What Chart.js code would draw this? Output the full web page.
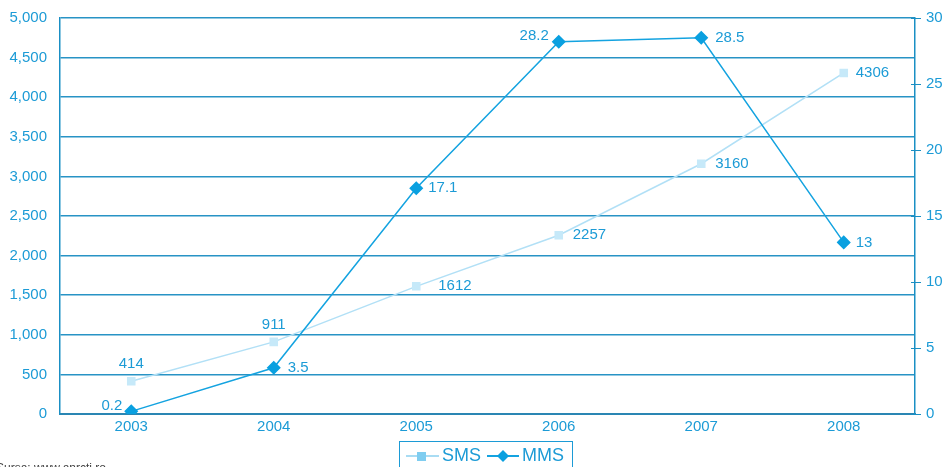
<!DOCTYPE html>
<html>
<head>
<meta charset="utf-8">
<script src="https://cdn.jsdelivr.net/npm/chart.js@4.4.1/dist/chart.umd.min.js"></script>
<style>
html,body{margin:0;padding:0;background:#fff;overflow:hidden;}
#wrap{position:relative;width:950px;height:467px;overflow:hidden;}
#src{position:absolute;left:-4px;top:461px;font:12px "Liberation Sans",Arial,sans-serif;color:#444;white-space:nowrap;}
</style>
</head>
<body>
<div id="wrap">
<canvas id="c" width="950" height="467"></canvas>
<div id="src">Sursa: www.anrcti.ro</div>
</div>
<script>
const years = ['2003','2004','2005','2006','2007','2008'];
const smsValues = [414, 911, 1612, 2257, 3160, 4306];
const mmsValues = [0.2, 3.5, 17.1, 28.2, 28.5, 13];
const smsLabels = ['414','911','1612','2257','3160','4306'];
const mmsLabels = ['0.2','3.5','17.1','28.2','28.5','13'];

const TXT = '#1c9bd6';
const GRID = '#2893c5';
const FONT = '"Liberation Sans", Arial, sans-serif';

// label placement per point
const smsPlace = [['above',0],['above',0],['right',22],['right',14],['right',14],['right',12]];
const mmsPlace = [['left',9],['right',14],['right',12],['left',10],['right',14],['right',12]];

const labelPlugin = {
  id: 'pointLabels',
  afterDatasetsDraw(chart) {
    const ctx = chart.ctx;
    ctx.save();
    ctx.font = '15px ' + FONT;
    ctx.fillStyle = TXT;
    const sets = [[1, smsLabels, smsPlace], [0, mmsLabels, mmsPlace]];
    sets.forEach(([di, labels, place]) => {
      const meta = chart.getDatasetMeta(di);
      meta.data.forEach((pt, i) => {
        const [p, off] = place[i];
        let x = pt.x, y = pt.y;
        if (p === 'above') { ctx.textAlign = 'center'; ctx.textBaseline = 'alphabetic'; y = pt.y - 13; }
        else if (p === 'right') { ctx.textAlign = 'left'; ctx.textBaseline = 'middle'; x = pt.x + off; }
        else { ctx.textAlign = 'right'; ctx.textBaseline = 'middle'; x = pt.x - off; y = pt.y - 6; }
        ctx.fillText(labels[i], x, y);
      });
    });
    ctx.restore();
  }
};

const rightTicksPlugin = {
  id: 'rightTicks',
  afterDraw(chart) {
    const s = chart.scales.y1;
    const ctx = chart.ctx;
    ctx.save();
    ctx.strokeStyle = '#1a8fc4';
    ctx.lineWidth = 1;
    s.ticks.forEach(t => {
      const y = Math.round(s.getPixelForValue(t.value)) + 0.5;
      ctx.beginPath();
      ctx.moveTo(s.left - 4, y);
      ctx.lineTo(s.left + 6, y);
      ctx.stroke();
    });
    ctx.restore();
  }
};

const legendPlugin = {
  id: 'boxLegend',
  afterDraw(chart) {
    const ctx = chart.ctx;
    ctx.save();
    const bx = 399.5, by = 441.5, bw = 173, bh = 30;
    ctx.strokeStyle = '#1c9bd6';
    ctx.lineWidth = 1;
    ctx.strokeRect(bx, by, bw, bh);
    const cy = 456;
    ctx.strokeStyle = '#a9dcf3'; ctx.lineWidth = 2;
    ctx.beginPath(); ctx.moveTo(406, cy); ctx.lineTo(439, cy); ctx.stroke();
    ctx.fillStyle = '#7fcdf0';
    ctx.fillRect(417, cy - 4, 9, 9);
    ctx.font = '18px ' + FONT;
    ctx.fillStyle = TXT; ctx.textBaseline = 'middle'; ctx.textAlign = 'left';
    ctx.fillText('SMS', 442, cy);
    ctx.strokeStyle = '#14a3e0'; ctx.lineWidth = 2;
    ctx.beginPath(); ctx.moveTo(487, cy); ctx.lineTo(519, cy); ctx.stroke();
    ctx.fillStyle = '#0aa0e0';
    ctx.beginPath(); ctx.moveTo(503, cy - 6); ctx.lineTo(509, cy); ctx.lineTo(503, cy + 6); ctx.lineTo(497, cy); ctx.closePath(); ctx.fill();
    ctx.fillStyle = TXT;
    ctx.fillText('MMS', 522, cy);
    ctx.restore();
  }
};

function fixY(s, w) { s.width = w; s.paddingTop = 0; s.paddingBottom = 0; }

new Chart(document.getElementById('c'), {
  type: 'line',
  data: {
    labels: years,
    datasets: [
      {
        label: 'MMS', data: mmsValues, yAxisID: 'y1',
        borderColor: '#14a3e0', borderWidth: 1.5, backgroundColor: '#0aa0e0',
        pointStyle: 'rectRot', pointRadius: 6, pointHoverRadius: 6,
        pointBackgroundColor: '#0aa0e0', pointBorderColor: '#0aa0e0', tension: 0
      },
      {
        label: 'SMS', data: smsValues, yAxisID: 'y',
        borderColor: '#b2e0f6', borderWidth: 1.5, backgroundColor: '#c6e9f9',
        pointStyle: 'rect', pointRadius: 5, pointHoverRadius: 5,
        pointBackgroundColor: '#c6e9f9', pointBorderColor: '#c6e9f9', tension: 0
      }
    ]
  },
  options: {
    responsive: false,
    animation: false,
    devicePixelRatio: 1,
    layout: { padding: { top: 18, left: 0, right: 0, bottom: 0 } },
    plugins: { legend: { display: false }, tooltip: { enabled: false } },
    scales: {
      x: {
        offset: true,
        grid: { display: false, drawTicks: false },
        border: { display: true, color: '#2a86b3', width: 2 },
        ticks: { color: TXT, font: { family: FONT, size: 15 }, padding: 4, maxRotation: 0 },
        afterFit(s) { s.height = 53; s.paddingLeft = 0; s.paddingRight = 0; }
      },
      y: {
        position: 'left', min: 0, max: 5000,
        ticks: { stepSize: 500, color: TXT, font: { family: FONT, size: 15 }, padding: 13 },
        grid: { color: GRID, lineWidth: 1.5, drawTicks: false },
        border: { display: true, color: '#1a8fc4', width: 1.5 },
        afterFit(s) { fixY(s, 60); }
      },
      y1: {
        position: 'right', min: 0, max: 30,
        ticks: { stepSize: 5, color: TXT, font: { family: FONT, size: 15 }, padding: 11 },
        grid: { drawOnChartArea: false, drawTicks: false },
        border: { display: true, color: '#1a8fc4', width: 1.5 },
        afterFit(s) { fixY(s, 35); }
      }
    }
  },
  plugins: [labelPlugin, rightTicksPlugin, legendPlugin]
});
</script>
</body>
</html>
